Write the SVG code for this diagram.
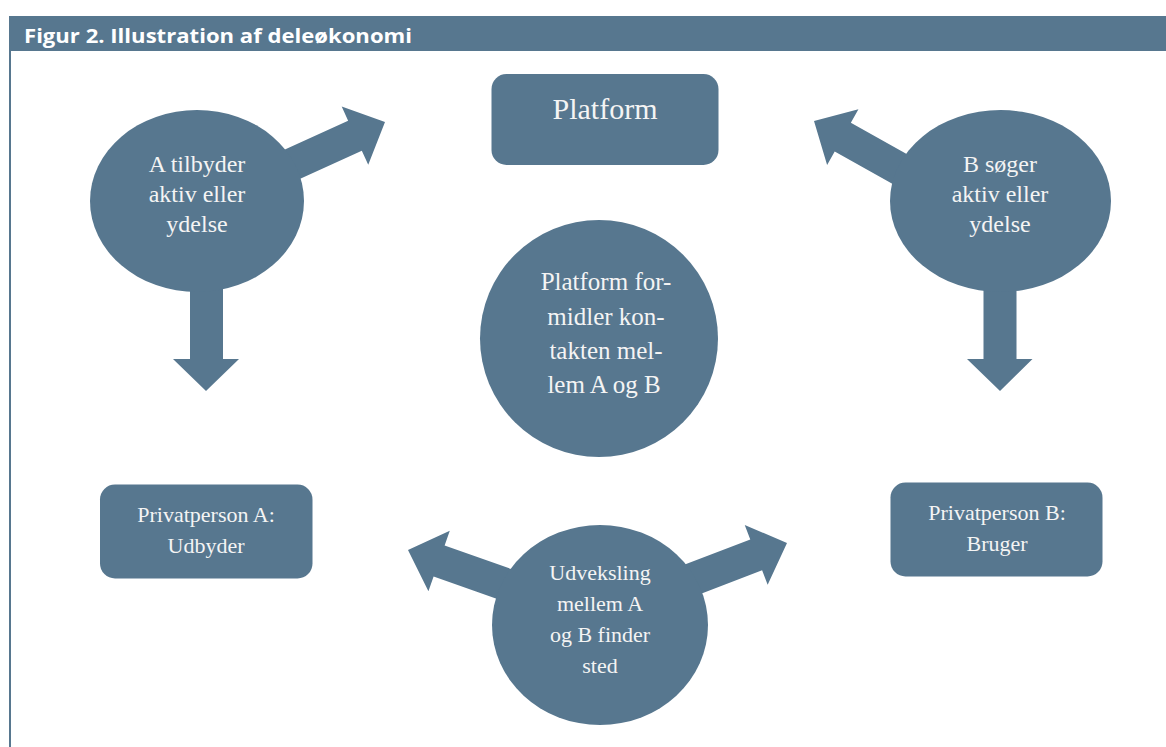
<svg xmlns="http://www.w3.org/2000/svg" width="1166" height="747" viewBox="0 0 1166 747">
<style>
.f{fill:#57778f}
.t{fill:#f4f4f4;font-family:"Liberation Serif",serif;text-anchor:middle}
.h{fill:#ffffff;font-family:"Open Sans","Liberation Sans",sans-serif;font-weight:bold;font-size:20px}
</style>
<defs>
<path id="arr" d="M0,0 L-33,-32 L-33,-16.5 L-120,-16.5 L-120,16.5 L-33,16.5 L-33,32 Z"/>
</defs>
<rect x="0" y="0" width="1166" height="747" fill="#ffffff"/>
<g id="frame">
<rect x="9" y="16" width="1157" height="35" class="f"/>
<rect x="9" y="50" width="2" height="697" class="f"/>
<text class="h" x="24" y="42.5" textLength="388" lengthAdjust="spacingAndGlyphs">Figur 2. Illustration af deleøkonomi</text>
</g>
<g id="connectors" class="f">
<use href="#arr" transform="translate(385,122) rotate(-24.5)"/>
<use href="#arr" transform="translate(814,121) rotate(-150.7)"/>
<use href="#arr" transform="translate(408,550) rotate(-160.5)"/>
<use href="#arr" transform="translate(787,543) rotate(-21)"/>
<path d="M206,391 L173,359 L190,359 L190,280 L223,280 L223,359 L239,359 Z"/>
<path d="M1000,391 L967,359 L983.5,359 L983.5,280 L1016.5,280 L1016.5,359 L1032.5,359 Z"/>
</g>
<g id="platform">
<rect x="491.5" y="74" width="227" height="91" rx="15" class="f"/>
<text class="t" x="605" y="119" font-size="30">Platform</text>
</g>
<g id="a-tilbyder">
<ellipse cx="197" cy="201" rx="107" ry="91" class="f"/>
<text class="t" font-size="24"><tspan x="197" y="172">A tilbyder</tspan><tspan x="197" y="202">aktiv eller</tspan><tspan x="197" y="232">ydelse</tspan></text>
</g>
<g id="b-soeger">
<ellipse cx="1000.5" cy="201" rx="110.5" ry="91" class="f"/>
<text class="t" font-size="24"><tspan x="1000" y="172">B søger</tspan><tspan x="1000" y="202">aktiv eller</tspan><tspan x="1000" y="232">ydelse</tspan></text>
</g>
<g id="formidler">
<ellipse cx="599" cy="338.5" rx="119" ry="118.5" class="f"/>
<text class="t" font-size="25"><tspan x="606" y="290">Platform for-</tspan><tspan x="606" y="325">midler kon-</tspan><tspan x="606" y="359">takten mel-</tspan><tspan x="604" y="393">lem A og B</tspan></text>
</g>
<g id="privat-a">
<rect x="100" y="484.5" width="212.5" height="94" rx="15" class="f"/>
<text class="t" font-size="22"><tspan x="206" y="522">Privatperson A:</tspan><tspan x="206" y="553">Udbyder</tspan></text>
</g>
<g id="privat-b">
<rect x="890.5" y="482.5" width="212" height="94" rx="15" class="f"/>
<text class="t" font-size="22"><tspan x="997" y="520">Privatperson B:</tspan><tspan x="997" y="551">Bruger</tspan></text>
</g>
<g id="udveksling">
<ellipse cx="600" cy="625" rx="108" ry="100" class="f"/>
<text class="t" font-size="22"><tspan x="600" y="580">Udveksling</tspan><tspan x="600" y="611">mellem  A</tspan><tspan x="600" y="642">og B finder</tspan><tspan x="600" y="673">sted</tspan></text>
</g>
</svg>
